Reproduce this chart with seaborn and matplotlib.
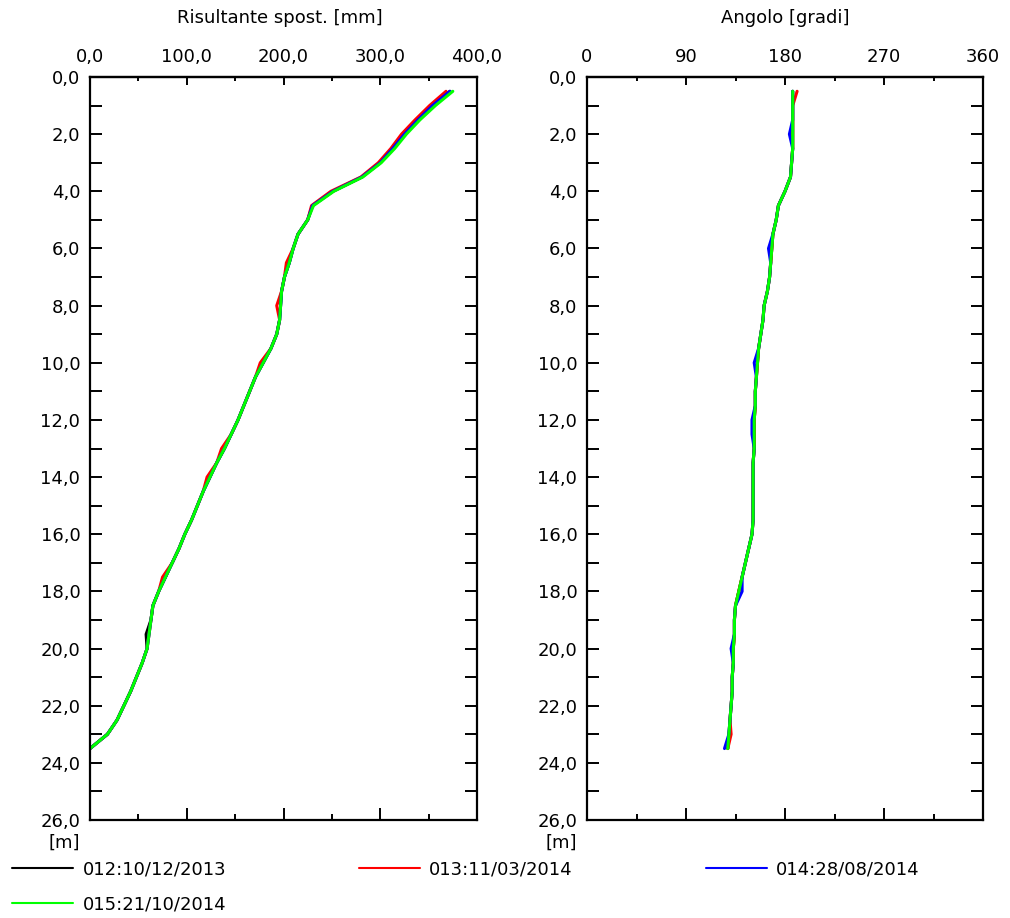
import matplotlib
matplotlib.use("Agg")
import matplotlib.pyplot as plt
from matplotlib.lines import Line2D
from matplotlib.ticker import FixedLocator, FuncFormatter
import numpy as np
import pandas as pd
import seaborn as sns

# ---------------- data ----------------
series_names = ["012:10/12/2013", "013:11/03/2014", "014:28/08/2014", "015:21/10/2014"]
series_colors = ["#000000", "#ff0000", "#0000ff", "#00ff00"]

depth = [0.5, 1.0, 1.5, 2.0, 2.5, 3.0, 3.5, 4.0, 4.5, 5.0,
         5.5, 6.0, 6.5, 7.0, 7.5, 8.0, 8.5, 9.0, 9.5, 10.0,
         10.5, 11.0, 11.5, 12.0, 12.5, 13.0, 13.5, 14.0, 14.5, 15.0,
         15.5, 16.0, 16.5, 17.0, 17.5, 18.0, 18.5, 19.0, 19.5, 20.0,
         20.5, 21.0, 21.5, 22.0, 22.5, 23.0, 23.5]

# Risultante spostamento [mm]
disp_012 = [372, 354, 339, 325, 313, 300, 281, 251, 230, 225,
            215, 210, 206, 201, 198, 197, 196, 193, 187, 179,
            171, 165, 159, 153, 146, 139, 131, 124, 117, 111,
            105, 98, 92, 85, 78, 71, 65, 63, 58, 59,
            54, 48, 42, 35, 28, 18, 0]
disp_013 = [368, 351, 336, 322, 311, 298, 280, 249, 229, 225,
            215, 210, 203, 201, 198, 193, 196, 193, 187, 176,
            171, 165, 159, 153, 146, 136, 131, 121, 117, 111,
            105, 98, 92, 85, 75, 71, 65, 63, 61, 59,
            54, 48, 42, 35, 28, 18, 0]
disp_014 = [372, 354, 339, 325, 313, 300, 281, 251, 230, 225,
            215, 210, 206, 201, 198, 197, 196, 193, 187, 179,
            171, 165, 159, 153, 146, 139, 131, 124, 117, 111,
            105, 98, 92, 85, 78, 71, 65, 63, 61, 59,
            54, 48, 42, 35, 28, 18, 0]
disp_015 = [375, 357, 341, 327, 315, 301, 282, 252, 231, 225,
            215, 210, 206, 201, 198, 197, 196, 193, 187, 179,
            171, 165, 159, 153, 146, 139, 131, 124, 117, 111,
            105, 98, 92, 85, 78, 71, 65, 63, 61, 59,
            54, 48, 42, 35, 28, 18, 0]

# Angolo [gradi]
ang_012 = [187, 187, 187, 187, 187, 186, 185, 180, 174, 172,
           169, 168, 167, 166, 164, 161, 160, 158, 156, 155,
           154, 153, 153, 152, 152, 152, 151, 151, 151, 151,
           151, 150, 147, 144, 141, 138, 135, 134, 134, 133,
           133, 132, 132, 131, 130, 129, 128]
ang_013 = [191, 187, 187, 187, 187, 186, 185, 180, 174, 172,
           169, 168, 167, 166, 164, 161, 160, 158, 156, 155,
           154, 153, 153, 152, 152, 152, 151, 151, 151, 151,
           151, 150, 147, 144, 141, 138, 135, 134, 134, 133,
           133, 132, 132, 131, 130, 131, 128]
ang_014 = [187, 187, 187, 184, 187, 186, 185, 180, 174, 172,
           169, 165, 167, 166, 164, 161, 160, 158, 156, 152,
           154, 153, 153, 150, 150, 152, 151, 151, 151, 151,
           151, 150, 147, 144, 141, 141, 135, 134, 134, 131,
           133, 132, 132, 131, 130, 129, 125]
ang_015 = [187, 187, 187, 187, 187, 186, 185, 180, 174, 172,
           169, 168, 167, 166, 164, 161, 160, 158, 156, 155,
           154, 153, 153, 152, 152, 152, 151, 151, 151, 151,
           151, 150, 147, 144, 141, 138, 135, 134, 134, 133,
           133, 132, 132, 131, 130, 129, 128]

# tick values
disp_major = [0, 100, 200, 300, 400]
disp_minor = [50, 150, 250, 350]
ang_major = [0, 90, 180, 270, 360]
ang_minor = [45, 135, 225, 315]
depth_major = [0, 2, 4, 6, 8, 10, 12, 14, 16, 18, 20, 22, 24, 26]
depth_minor = [1, 3, 5, 7, 9, 11, 13, 15, 17, 19, 21, 23, 25]

disp_series = [disp_012, disp_013, disp_014, disp_015]
ang_series = [ang_012, ang_013, ang_014, ang_015]

rows = []
for name, dvals, avals in zip(series_names, disp_series, ang_series):
    for z, dv, av in zip(depth, dvals, avals):
        rows.append({"serie": name, "depth": z, "disp": dv, "ang": av})
df = pd.DataFrame(rows)

# ---------------- style ----------------
sns.set_style("ticks")
plt.rcParams["font.family"] = ["DejaVu Sans"]
plt.rcParams["text.color"] = "black"
plt.rcParams["axes.labelcolor"] = "black"
FS = 13
plt.rcParams["font.size"] = FS

W, H = 1010, 918
fig = plt.figure(figsize=(W / 100, H / 100), dpi=100)
fig.patch.set_facecolor("white")

ax1 = fig.add_axes([90 / W, (H - 820) / H, 387 / W, 743 / H])
ax2 = fig.add_axes([587 / W, (H - 820) / H, 396 / W, 743 / H])

palette = dict(zip(series_names, series_colors))

sns.lineplot(data=df, x="disp", y="depth", hue="serie", hue_order=series_names,
             palette=palette, estimator=None, sort=False, orient="y",
             ax=ax1, linewidth=2.2, legend=False)
sns.lineplot(data=df, x="ang", y="depth", hue="serie", hue_order=series_names,
             palette=palette, estimator=None, sort=False, orient="y",
             ax=ax2, linewidth=2.2, legend=False)

comma1 = FuncFormatter(lambda v, p: f"{v:.1f}".replace(".", ","))
intfmt = FuncFormatter(lambda v, p: f"{v:.0f}")

for ax, xmax, xmaj, xmin, xfmt in [(ax1, 400, disp_major, disp_minor, comma1),
                                   (ax2, 360, ang_major, ang_minor, intfmt)]:
    ax.set_facecolor("white")
    ax.set_xlim(0, xmax)
    ax.set_ylim(26, 0)
    ax.xaxis.set_major_locator(FixedLocator(xmaj))
    ax.xaxis.set_minor_locator(FixedLocator(xmin))
    ax.yaxis.set_major_locator(FixedLocator(depth_major))
    ax.yaxis.set_minor_locator(FixedLocator(depth_minor))
    ax.yaxis.set_major_formatter(comma1)
    # bottom edge: longer inward ticks, no labels
    ax.tick_params(axis="x", which="both", direction="in", top=False, bottom=True,
                   labeltop=False, labelbottom=False, colors="black", width=1.4)
    ax.tick_params(axis="x", which="major", length=8.5)
    ax.tick_params(axis="x", which="minor", length=4)
    ax.tick_params(axis="y", which="both", direction="in", left=True, right=True,
                   labelleft=True, labelright=False, colors="black", width=1.4,
                   length=8.5, labelsize=FS, pad=7)
    for s in ax.spines.values():
        s.set_visible(True)
        s.set_color("black")
        s.set_linewidth(1.6)
    ax.set_xlabel("")
    ax.set_ylabel("")

    # top edge: shorter inward ticks carrying the labels
    sec = ax.secondary_xaxis("top")
    sec.xaxis.set_major_locator(FixedLocator(xmaj))
    sec.xaxis.set_minor_locator(FixedLocator(xmin))
    sec.xaxis.set_major_formatter(xfmt)
    sec.tick_params(axis="x", which="both", direction="in", colors="black",
                    width=1.4, labelsize=FS, pad=8)
    sec.tick_params(axis="x", which="major", length=5.5)
    sec.tick_params(axis="x", which="minor", length=3)
    sec.spines["top"].set_linewidth(1.6)
    sec.spines["top"].set_color("black")

    ax.annotate("[m]", xy=(0, 0), xycoords="axes fraction", xytext=(-10, -23),
                textcoords="offset pixels", ha="right", va="center", fontsize=FS,
                color="black")

fig.text(280 / W, 1 - 18 / H, "Risultante spost. [mm]", ha="center", va="center",
         fontsize=FS, color="black")
fig.text(785 / W, 1 - 18 / H, "Angolo [gradi]", ha="center", va="center",
         fontsize=FS, color="black")

handles = [Line2D([], [], color=c, lw=1.5) for c in series_colors]
order = [0, 3, 1, 2]
leg = fig.legend([handles[i] for i in order], [series_names[i] for i in order],
                 ncol=3, loc="upper left", bbox_to_anchor=(12 / W, 1 - 860 / H),
                 frameon=False, fontsize=FS, handlelength=3.4, handletextpad=0.5,
                 columnspacing=7.35, labelspacing=0.95, borderpad=0, borderaxespad=0)
for txt in leg.get_texts():
    txt.set_color("black")

fig.savefig("out.png", dpi=100, facecolor="white")
